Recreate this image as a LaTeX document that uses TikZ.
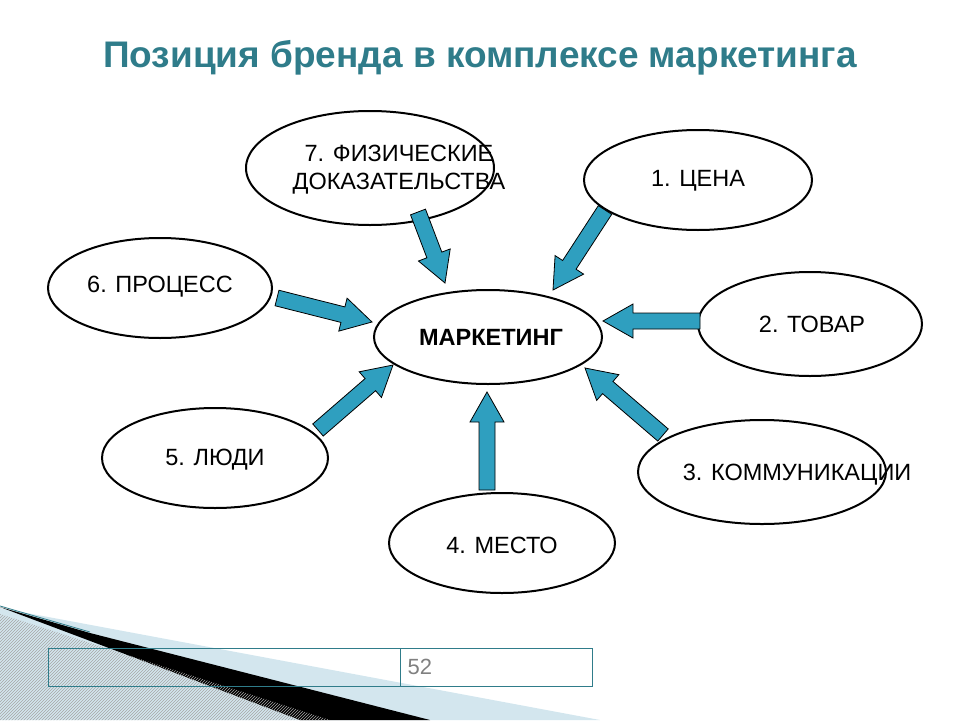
\documentclass[tikz,border=0pt]{standalone}
\usepackage{fontspec}
\setmainfont{Liberation Sans}
\usetikzlibrary{calc,patterns}
\definecolor{teal1}{HTML}{2F7C8A}
\definecolor{arrowc}{HTML}{2F9FBF}
\definecolor{lblue}{HTML}{D3E6EE}
\tikzset{
 lab/.style={font=\fontsize{23.5}{28}\selectfont,align=center},
 barrow/.style={fill=arrowc,draw=black,line width=0.8pt,line join=miter},
}
\newcommand{\blockarrow}[2]{%
 \coordinate (hh) at ($(#2)!30pt!(#1)$);
 \path[barrow] ($(#1)!8pt!90:(#2)$) -- ($(hh)!8pt!90:(#2)$) -- ($(hh)!17pt!90:(#2)$) -- (#2)
   -- ($(hh)!17pt!-90:(#2)$) -- ($(hh)!8pt!-90:(#2)$) -- ($(#1)!8pt!-90:(#2)$) -- cycle;}
\begin{document}
\begin{tikzpicture}[x=1pt,y=-1pt]
\useasboundingbox (0,0) rectangle (960,720);
% decoration
\fill[lblue] (0,608) -- (600,720) -- (0,720) -- cycle;
\fill[black] (0,607) -- (90,633) -- (430,720) -- (300,720) -- cycle;
\fill[pattern=north east lines,pattern color=gray!70] (0,614) -- (330,720) -- (0,720) -- cycle;
\draw[teal1,line width=0.8pt] (0,606) -- (90,632);
% footer
\node[draw=teal1,line width=1pt,minimum width=352pt,minimum height=38pt,inner sep=0pt] (fl) at (224,667) {};
\node[draw=teal1,line width=1pt,minimum width=192pt,minimum height=38pt,inner sep=0pt] (fr) at (496,667) {};
\node[text=gray,font=\fontsize{22}{26}\selectfont,anchor=west] (num) at (404,667) {52};
% title
\node[text=teal1,font=\bfseries\fontsize{37}{44}\selectfont] (title) at (480,58) {Позиция бренда в комплексе маркетинга};
% ellipses
\draw[line width=2pt] (370,168) ellipse (124 and 57);
\draw[line width=2pt] (698,180) ellipse (114 and 50);
\draw[line width=2pt] (160,288) ellipse (112 and 50);
\draw[line width=2pt] (488,337) ellipse (114 and 47);
\draw[line width=2pt] (810,324) ellipse (112 and 52);
\draw[line width=2pt] (215,458) ellipse (113 and 50);
\draw[line width=2pt] (762,472) ellipse (124 and 52);
\draw[line width=2pt] (502,543) ellipse (113 and 50);
% labels
\node[lab] (t7) at (399,170) {7. ФИЗИЧЕСКИЕ\\ДОКАЗАТЕЛЬСТВА};
\node[lab] (t1) at (698,181) {1. ЦЕНА};
\node[lab] (t6) at (160,287) {6. ПРОЦЕСС};
\node[lab,font=\bfseries\fontsize{23.5}{28}\selectfont] (tm) at (491,337) {МАРКЕТИНГ};
\node[lab] (t2) at (812,324) {2. ТОВАР};
\node[lab] (t5) at (215,460) {5. ЛЮДИ};
\node[lab] (t3) at (797,475) {3. КОММУНИКАЦИИ};
\node[lab] (t4) at (502,545) {4. МЕСТО};
% arrows
\coordinate (a7) at (418,212); \coordinate (b7) at (445,283);
\coordinate (a1) at (605,210); \coordinate (b1) at (553,290);
\coordinate (a6) at (277,298); \coordinate (b6) at (372,322);
\coordinate (a2) at (700,321); \coordinate (b2) at (603,321);
\coordinate (a5) at (318,430); \coordinate (b5) at (393,365);
\coordinate (a3) at (663,435); \coordinate (b3) at (585,368);
\coordinate (a4) at (487,490); \coordinate (b4) at (487,392);
\blockarrow{a7}{b7}\blockarrow{a1}{b1}\blockarrow{a6}{b6}\blockarrow{a2}{b2}
\blockarrow{a5}{b5}\blockarrow{a3}{b3}\blockarrow{a4}{b4}
\end{tikzpicture}
\end{document}
